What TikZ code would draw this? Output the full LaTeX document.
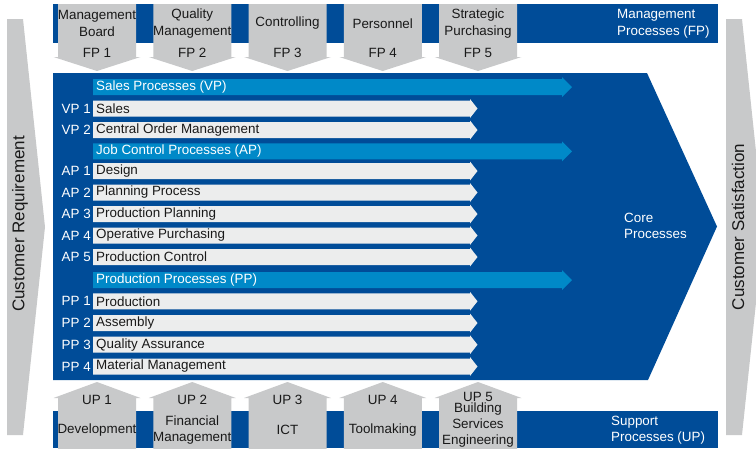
\documentclass[tikz,border=0pt]{standalone}
\usepackage{fontspec}
\setmainfont{Liberation Sans}
\definecolor{dblue}{RGB}{0,76,152}
\definecolor{lblue}{RGB}{0,137,200}
\definecolor{chev}{RGB}{200,201,202}
\definecolor{rowgray}{RGB}{236,237,237}
\definecolor{txt}{RGB}{25,25,25}
\begin{document}
\begin{tikzpicture}[x=1pt,y=-1pt,
  base/.style={font=\fontsize{13.4}{16}\selectfont, inner sep=0pt, align=center, text=txt},
  fpname/.style={base, font=\fontsize{13.4}{17}\selectfont},
  wtext/.style={base, text=white, align=left, anchor=west},
  rowtext/.style={base, anchor=west, inner xsep=3pt},
  rowlab/.style={base, anchor=east, text=white, inner xsep=2pt},
  hdrtext/.style={base, anchor=west, text=white, inner xsep=3pt},
  sidetext/.style={base, font=\fontsize{17}{20}\selectfont, rotate=90}]
\useasboundingbox (0,0) rectangle (756,448);

% side chevrons
\fill[chev] (7,19) -- (23,19) -- (45,227) -- (23,435) -- (7,435) -- cycle;
\fill[chev] (726,19) -- (742,19) -- (764,227) -- (742,435) -- (726,435) -- cycle;
\node[sidetext] (req) at (20,224) {Customer Requirement};
\node[sidetext] (sat) at (738,227) {Customer Satisfaction};

% bands
\fill[dblue] (53,4) rectangle (718,43);
\fill[dblue] (53,411) rectangle (718,448);
\fill[dblue] (53,73) -- (647,73) -- (717,226.5) -- (648,380) -- (53,380) -- cycle;

\node[wtext, font=\fontsize{13.4}{17}\selectfont] (mp) at (617,23.5) {Management\\Processes (FP)};
\node[wtext] (sp) at (611,430) {Support\\Processes (UP)};
\node[wtext] (core) at (624,226) {Core\\Processes};

% management process arrows
\foreach \i/\cx/\nm in {1/97/{Management\\Board}, 2/192.25/{Quality\\Management}, 3/287.5/Controlling, 4/382.75/Personnel, 5/478/{Strategic\\Purchasing}}{
  \fill[chev] (\cx-39,4) -- (\cx+39,4) -- (\cx+39,57) -- (\cx+43.5,57) -- (\cx,71) -- (\cx-43.5,57) -- (\cx-39,57) -- cycle;
  \node[fpname] (fpn\i) at (\cx,23.5) {\nm};
  \node[base] (fp\i) at (\cx,53) {FP \i};
}

% support process arrows
\foreach \i/\cx in {1/97, 2/192.25, 3/287.5, 4/382.75, 5/478}{
  \fill[chev] (\cx-39,455) -- (\cx+39,455) -- (\cx+39,398) -- (\cx+43.5,398) -- (\cx,382) -- (\cx-43.5,398) -- (\cx-39,398) -- cycle;
}
\node[base] (up1) at (97,400) {UP 1};
\node[base] (up2) at (192.25,400) {UP 2};
\node[base] (up3) at (287.5,400) {UP 3};
\node[base] (up4) at (382.75,400) {UP 4};
\node[base] (up5) at (478,397) {UP 5};
\node[base] (upn1) at (97,430) {Development};
\node[base] (upn2) at (192.25,430) {Financial\\Management};
\node[base] (upn3) at (287.5,430) {ICT};
\node[base] (upn4) at (382.75,430) {Toolmaking};
\node[base] (upn5) at (478,425.5) {Building\\Services\\Engineering};

% group headers
\foreach \k/\c/\txt in {0/87/Sales Processes (VP), 3/151.3/Job Control Processes (AP), 9/280/Production Processes (PP)}{
  \fill[lblue] (93,\c-8) -- (562,\c-8) -- (562,\c-10) -- (572,\c) -- (562,\c+10) -- (562,\c+8) -- (93,\c+8) -- cycle;
  \node[hdrtext] (hdr\k) at (93,\c) {\txt};
}

% process rows
\foreach \k/\c/\lab/\txt in {1/108.5/VP 1/Sales, 2/130/VP 2/Central Order Management,
  4/171/AP 1/Design, 5/192.5/AP 2/Planning Process, 6/214/AP 3/Production Planning,
  7/235.5/AP 4/Operative Purchasing, 8/257/AP 5/Production Control,
  10/301.3/PP 1/Production, 11/323/PP 2/Assembly, 12/344.7/PP 3/Quality Assurance,
  13/366.5/PP 4/Material Management}{
  \fill[rowgray] (93,\c-8) -- (470,\c-8) -- (470,\c-9.5) -- (477.5,\c) -- (470,\c+9.5) -- (470,\c+8) -- (93,\c+8) -- cycle;
  \node[rowtext] (row\k) at (93,\c) {\txt};
  \node[rowlab] (lab\k) at (93,\c) {\lab};
}
\end{tikzpicture}
\end{document}
